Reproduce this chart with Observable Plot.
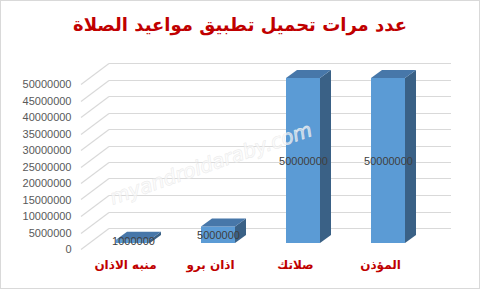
<!DOCTYPE html>
<html>
<head>
<meta charset="utf-8">
<script src="https://cdn.jsdelivr.net/npm/d3@7"></script>
<script src="https://cdn.jsdelivr.net/npm/@observablehq/plot@0.6"></script>
<style>
  body { margin: 0; background: #fff; }
  #chart {
    position: relative; width: 480px; height: 289px; box-sizing: border-box;
    overflow: hidden; background: #fff;
  }
  #chart::after {
    content: ""; position: absolute; inset: 0; border: 1px solid #d9d9d9; pointer-events: none;
  }
  #title {
    height: 36px; padding-top: 14px; line-height: 50px; text-align: center; color: #c00000;
    font: bold 18px "DejaVu Sans", sans-serif; direction: rtl; white-space: nowrap;
  }
  #chart svg { display: block; }
</style>
</head>
<body>
<div id="chart"><div id="title">عدد مرات تحميل تطبيق مواعيد الصلاة</div></div>
<script>
// Prayer-times apps and their download counts
const apps = ["منبه الاذان", "اذان برو", "صلاتك", "المؤذن"];
const downloads = [1000000, 5000000, 50000000, 50000000];
const yTicks = [0, 5000000, 10000000, 15000000, 20000000, 25000000, 30000000, 35000000, 40000000, 45000000, 50000000];
const watermark = ["myandroidaraby.com"];

const rows = apps.map((app, i) => ({app, value: downloads[i]}));

// 3-D look: bars sit a little behind the axis plane, and have a depth
const lift = -6;                 // bar plane offset (px)
const depX = 11, depY = 8;       // bar depth
const wallX = 28, wallY = 21;    // back wall depth
const frontColor = "#5b9bd5", topColor = "#4777a9", sideColor = "#3a6186";

// Gridlines: short diagonal from the axis to the back wall, then across it
function wall(index, scales, values, dims) {
  const g = d3.create("svg:g").attr("fill", "none").attr("stroke", "#d9d9d9").attr("stroke-width", 1.2);
  const x0 = dims.marginLeft + 16;
  const xb = x0 + wallX;
  const xe = dims.width - dims.marginRight - 5;
  for (const t of yTicks) {
    const y = Math.round(scales.y(t)) + 0.5;
    g.append("line").attr("x1", x0).attr("y1", y).attr("x2", xb).attr("y2", y - wallY);
    g.append("line").attr("x1", xb).attr("y1", y - wallY).attr("x2", xe).attr("y2", y - wallY);
  }
  return g.node();
}

// Top and right-hand faces of each bar
function faces(index, scales) {
  const g = d3.create("svg:g");
  const bw = scales.x.bandwidth ? scales.x.bandwidth() : 34;
  for (const d of rows) {
    const x1 = scales.x(d.app), x2 = x1 + bw;
    const yt = scales.y(d.value) + lift, yb = scales.y(0) + lift;
    g.append("path").attr("fill", sideColor)
      .attr("d", `M${x2},${yt}L${x2 + depX},${yt - depY}L${x2 + depX},${yb - depY}L${x2},${yb}Z`);
    g.append("path").attr("fill", topColor)
      .attr("d", `M${x1},${yt}L${x2},${yt}L${x2 + depX},${yt - depY}L${x1 + depX},${yt - depY}Z`);
  }
  return g.node();
}

const plot = Plot.plot({
  width: 480,
  height: 239,
  marginTop: 34,
  marginBottom: 40,
  marginLeft: 65,
  marginRight: 24,
  style: {background: "transparent", fontFamily: "'Liberation Sans', Arial, sans-serif"},
  x: {domain: apps, padding: 0.6, axis: null},
  y: {domain: [0, 50000000], axis: null},
  marks: [
    wall,
    // y tick labels
    Plot.text(yTicks, {
      y: d => d, text: d => String(d), frameAnchor: "left", textAnchor: "end",
      dx: 6, fill: "#595959", fontSize: 11
    }),
    // bars: front face
    Plot.barY(rows, {x: "app", y: "value", fill: frontColor, dy: lift}),
    faces,
    // value labels
    Plot.text(rows, {
      x: "app", y: d => d.value / 2, text: d => String(d.value), dy: lift,
      fill: "#404040", fontSize: 11
    }),
    // category labels
    Plot.text(rows, {
      x: "app", text: "app", frameAnchor: "bottom", dy: 19, dx: -8,
      fill: "#c00000", fontSize: 12, fontWeight: "bold", fontFamily: "'DejaVu Sans', sans-serif"
    }),
    // site watermark
    Plot.text(watermark, {
      text: d => d, frameAnchor: "middle", dx: -50, dy: -3, rotate: -19,
      fontSize: 20, fontStyle: "italic", fontFamily: "'DejaVu Sans', sans-serif",
      fill: "white", fillOpacity: 0.5, stroke: "#e6e6e6", strokeWidth: 0.9, strokeOpacity: 0.8
    })
  ]
});

document.getElementById("chart").appendChild(plot);
</script>
</body>
</html>
